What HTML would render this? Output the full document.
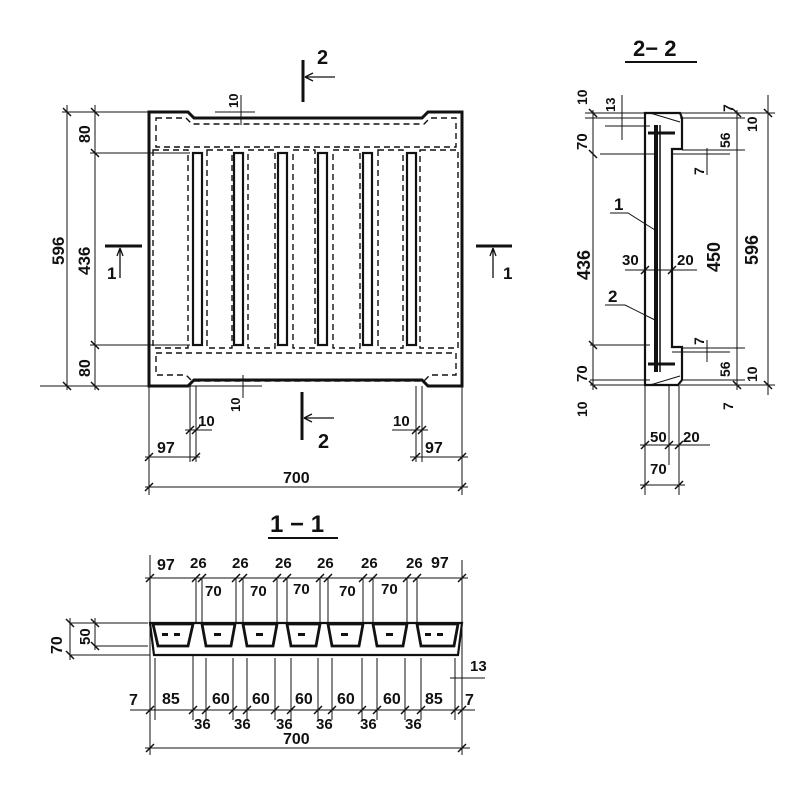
<!DOCTYPE html>
<html><head><meta charset="utf-8"><style>
html,body{margin:0;padding:0;background:#fff}
svg{display:block;font-size:15px}
text{font-family:"Liberation Sans",sans-serif;fill:#111;stroke:none;font-weight:bold}
</style></head><body>
<svg width="800" height="800" viewBox="0 0 800 800" xmlns="http://www.w3.org/2000/svg" stroke="#111" fill="none" stroke-width="1">
<!-- PLAN -->
<path d="M149 112 H188 L194 118 H422 L428 112 H462 V386 H428 L422 380 H194 L188 386 H149 Z" stroke-width="3"/>
<g stroke-dasharray="6,4" stroke-width="1.4">
<path d="M156 118 H186 L192 124 H424 L430 118 H456 V147 H156 Z"/>
<path d="M156 353 H456 V375 H430 L424 381 H192 L186 375 H156 Z"/>
<rect x="153" y="150" width="35" height="198"/>
<rect x="207" y="150" width="25" height="198"/>
<rect x="248" y="150" width="27" height="198"/>
<rect x="293" y="150" width="22" height="198"/>
<rect x="333" y="150" width="27" height="198"/>
<rect x="378" y="150" width="25" height="198"/>
<rect x="420" y="150" width="38" height="198"/>
</g>
<g stroke-width="2.2">
<rect x="193" y="153" width="9" height="192"/>
<rect x="234" y="153" width="9" height="192"/>
<rect x="278" y="153" width="9" height="192"/>
<rect x="318" y="153" width="9" height="192"/>
<rect x="363" y="153" width="9" height="192"/>
<rect x="407" y="153" width="9" height="192"/>
</g>
<!-- left dims -->
<line x1="67" y1="105" x2="67" y2="390"/>
<line x1="95" y1="105" x2="95" y2="390"/>
<line x1="62" y1="112" x2="149" y2="112"/>
<line x1="90" y1="153" x2="190" y2="153"/>
<line x1="90" y1="345" x2="190" y2="345"/>
<line x1="40" y1="386" x2="149" y2="386"/>
<g stroke-width="1.5"><path d="M63 108l8 8M63 382l8 8M91 108l8 8M91 149l8 8M91 341l8 8M91 382l8 8"/></g>
<text transform="translate(64,265) rotate(-90)" font-size="17">596</text>
<text transform="translate(90,275) rotate(-90)" font-size="17">436</text>
<text transform="translate(90,143) rotate(-90)" font-size="16">80</text>
<text transform="translate(90,377) rotate(-90)" font-size="16">80</text>
<!-- 10 top -->
<line x1="241" y1="95" x2="241" y2="125"/><line x1="215" y1="112" x2="255" y2="112"/>
<text transform="translate(238,108) rotate(-90)" font-size="13">10</text>
<line x1="243" y1="375" x2="243" y2="398"/><line x1="190" y1="386" x2="262" y2="386"/>
<text transform="translate(240,412) rotate(-90)" font-size="13">10</text>
<!-- section markers -->
<g stroke-width="3"><line x1="303" y1="60" x2="303" y2="102"/><line x1="302" y1="392" x2="302" y2="440"/>
<line x1="105" y1="246" x2="142" y2="246"/><line x1="476" y1="246" x2="512" y2="246"/></g>
<path d="M305 77 H335 M305 77 l8 -4 M305 77 l8 4" stroke-width="1.3"/>
<path d="M304 418 H334 M304 418 l8 -4 M304 418 l8 4" stroke-width="1.3"/>
<path d="M120 248 V278 M120 248 l-3 8 M120 248 l3 8" stroke-width="1.3"/>
<path d="M493 248 V278 M493 248 l-3 8 M493 248 l3 8" stroke-width="1.3"/>
<text x="317" y="64" font-size="20">2</text>
<text x="318" y="448" font-size="20">2</text>
<text x="107" y="279" font-size="17">1</text>
<text x="503" y="279" font-size="17">1</text>
<!-- bottom dims -->
<line x1="149" y1="386" x2="149" y2="495"/><line x1="462" y1="386" x2="462" y2="495"/>
<line x1="190" y1="386" x2="190" y2="462"/><line x1="196" y1="386" x2="196" y2="462"/>
<line x1="416" y1="386" x2="416" y2="462"/><line x1="422" y1="386" x2="422" y2="462"/>
<line x1="145" y1="487" x2="468" y2="487"/>
<line x1="145" y1="457" x2="200" y2="457"/><line x1="410" y1="457" x2="468" y2="457"/>
<line x1="185" y1="430" x2="212" y2="430"/><line x1="392" y1="430" x2="428" y2="430"/>
<g stroke-width="1.5"><path d="M145 491l8-8M458 491l8-8M145 461l8-8M192 461l8-8M412 461l8-8M458 461l8-8M186 434l8-8M192 434l8-8M412 434l8-8M418 434l8-8"/></g>
<text x="198" y="426" font-size="15">10</text><text x="393" y="426" font-size="15">10</text>
<text x="157" y="453" font-size="16">97</text><text x="425" y="453" font-size="16">97</text>
<text x="283" y="483" font-size="16">700</text>
<!-- SECTION 2-2 -->
<text x="633" y="56" font-size="22">2− 2</text>
<line x1="625" y1="62" x2="697" y2="62" stroke-width="2"/>
<path d="M645 113 H680 L682 118 V149 H672 V347 H682 V380 L678 385 H645 Z" stroke-width="2.2"/>
<path d="M650 113 L680 122" /><path d="M650 385 L680 376"/>
<line x1="656" y1="125" x2="656" y2="372" stroke-width="4"/>
<line x1="660" y1="125" x2="660" y2="372" stroke-width="1.5"/>
<path d="M648 133 H675 M648 364 H675" stroke-width="3"/>
<line x1="593" y1="110" x2="593" y2="390"/>
<line x1="737" y1="110" x2="737" y2="390"/>
<line x1="768" y1="95" x2="768" y2="395"/>
<line x1="585" y1="113" x2="645" y2="113"/><line x1="585" y1="118" x2="645" y2="118"/>
<line x1="600" y1="154" x2="655" y2="154"/><line x1="590" y1="345" x2="650" y2="345"/>
<line x1="590" y1="380" x2="650" y2="380"/><line x1="590" y1="385" x2="650" y2="385"/>
<line x1="680" y1="113" x2="775" y2="113"/><line x1="680" y1="118" x2="745" y2="118"/>
<line x1="682" y1="150" x2="745" y2="150"/><line x1="672" y1="154" x2="730" y2="154"/>
<line x1="682" y1="348" x2="745" y2="348"/><line x1="672" y1="352" x2="730" y2="352"/>
<line x1="682" y1="380" x2="745" y2="380"/><line x1="680" y1="385" x2="775" y2="385"/>
<line x1="622" y1="95" x2="622" y2="140"/><line x1="605" y1="126" x2="650" y2="126"/>
<line x1="707" y1="148" x2="707" y2="175"/><line x1="707" y1="340" x2="707" y2="362"/>
<line x1="645" y1="385" x2="645" y2="495"/><line x1="669" y1="385" x2="669" y2="465"/><line x1="679" y1="385" x2="679" y2="495"/>
<line x1="640" y1="445" x2="710" y2="445"/><line x1="640" y1="485" x2="685" y2="485"/>
<line x1="625" y1="270" x2="697" y2="270"/>
<path d="M610 213 H628 L655 230"/><path d="M605 305 H625 L655 320"/>
<g stroke-width="1.5"><path d="M589 109l8 8M589 150l8 8M589 341l8 8M589 381l8 8M733 109l8 8M733 381l8 8M764 109l8 8M764 381l8 8M641 449l8-8M665 449l8-8M675 449l8-8M641 489l8-8M675 489l8-8M641 274l8-8M668 274l8-8"/></g>
<text transform="translate(587,105) rotate(-90)" font-size="14">10</text>
<text transform="translate(615,112) rotate(-90)" font-size="13">13</text>
<text transform="translate(587,150) rotate(-90)" font-size="15">70</text>
<text transform="translate(590,280) rotate(-90)" font-size="18">436</text>
<text transform="translate(587,382) rotate(-90)" font-size="15">70</text>
<text transform="translate(587,417) rotate(-90)" font-size="14">10</text>
<text transform="translate(733,112) rotate(-90)" font-size="14">7</text>
<text transform="translate(757,132) rotate(-90)" font-size="14">10</text>
<text transform="translate(730,148) rotate(-90)" font-size="14">56</text>
<text transform="translate(704,175) rotate(-90)" font-size="14">7</text>
<text transform="translate(720,272) rotate(-90)" font-size="18">450</text>
<text transform="translate(758,265) rotate(-90)" font-size="18">596</text>
<text transform="translate(704,345) rotate(-90)" font-size="14">7</text>
<text transform="translate(730,377) rotate(-90)" font-size="14">56</text>
<text transform="translate(757,382) rotate(-90)" font-size="14">10</text>
<text transform="translate(733,410) rotate(-90)" font-size="14">7</text>
<text x="622" y="265" font-size="15">30</text><text x="677" y="265" font-size="15">20</text>
<text x="614" y="210" font-size="17">1</text><text x="608" y="302" font-size="17">2</text>
<text x="650" y="442" font-size="15">50</text><text x="683" y="442" font-size="15">20</text>
<text x="650" y="474" font-size="15">70</text>
<!-- SECTION 1-1 -->
<text x="270" y="532" font-size="24">1 − 1</text>
<line x1="268" y1="538" x2="338" y2="538" stroke-width="2"/>
<path d="M150 623 H462 L458 655 H154 Z" stroke-width="2.2"/>
<g stroke-width="2.8">
<path d="M153 624 H193 L188 646 H158 Z"/><path d="M202 624 H235 L231 646 H206 Z"/>
<path d="M243 624 H277 L273 646 H247 Z"/><path d="M287 624 H320 L316 646 H291 Z"/>
<path d="M328 624 H363 L359 646 H332 Z"/><path d="M373 624 H407 L403 646 H377 Z"/>
<path d="M417 624 H458 L454 646 H421 Z"/>
</g>
<g fill="#111" stroke="none">
<rect x="162" y="633" width="6" height="3"/><rect x="174" y="633" width="6" height="3"/>
<rect x="214" y="633" width="7" height="3"/><rect x="256" y="633" width="7" height="3"/>
<rect x="298" y="633" width="7" height="3"/><rect x="341" y="633" width="7" height="3"/>
<rect x="386" y="633" width="7" height="3"/><rect x="425" y="633" width="6" height="3"/><rect x="437" y="633" width="6" height="3"/>
</g>
<line x1="150" y1="555" x2="150" y2="755"/><line x1="462" y1="560" x2="462" y2="755"/>
<line x1="145" y1="578" x2="468" y2="578"/>
<g><path d="M196 578V622M202 578V622M236 578V622M243 578V622M277 578V622M287 578V622M320 578V622M328 578V622M363 578V622M373 578V622M407 578V622M417 578V622"/></g>
<path d="M155 658V720M193 655V720M206 658V720M233 658V720M247 658V720M275 658V720M291 658V720M318 658V720M332 658V720M362 658V720M377 658V720M405 658V720M421 658V720M455 658V720"/>
<line x1="130" y1="710" x2="475" y2="710"/><line x1="145" y1="748" x2="470" y2="748"/>
<line x1="70" y1="623" x2="148" y2="623"/><line x1="95" y1="646" x2="148" y2="646"/><line x1="70" y1="655" x2="150" y2="655"/>
<line x1="70" y1="618" x2="70" y2="660"/><line x1="95" y1="618" x2="95" y2="650"/>
<line x1="450" y1="678" x2="485" y2="678"/>
<g stroke-width="1.5"><path d="M146 582l8-8M458 582l8-8M192 582l8-8M198 582l8-8M232 582l8-8M239 582l8-8M273 582l8-8M283 582l8-8M316 582l8-8M324 582l8-8M359 582l8-8M369 582l8-8M403 582l8-8M413 582l8-8M146 714l8-8M189 714l8-8M202 714l8-8M229 714l8-8M243 714l8-8M271 714l8-8M287 714l8-8M314 714l8-8M328 714l8-8M358 714l8-8M373 714l8-8M401 714l8-8M417 714l8-8M451 714l8-8M458 714l8-8M146 752l8-8M458 752l8-8M66 619l8 8M66 651l8 8M91 619l8 8M91 642l8 8"/></g>
<g font-size="15">
<text x="157" y="570" font-size="16">97</text><text x="190" y="568">26</text><text x="232" y="568">26</text><text x="275" y="568">26</text><text x="317" y="568">26</text><text x="361" y="568">26</text><text x="406" y="568">26</text><text x="431" y="568" font-size="16">97</text>
<text x="205" y="596">70</text><text x="250" y="596">70</text><text x="293" y="594">70</text><text x="339" y="596">70</text><text x="381" y="594">70</text>
<text x="129" y="705" font-size="16">7</text><text x="162" y="704" font-size="16">85</text><text x="212" y="704" font-size="16">60</text><text x="252" y="704" font-size="16">60</text><text x="295" y="704" font-size="16">60</text><text x="337" y="704" font-size="16">60</text><text x="383" y="704" font-size="16">60</text><text x="425" y="704" font-size="16">85</text><text x="465" y="705" font-size="16">7</text>
<text x="194" y="729">36</text><text x="234" y="729">36</text><text x="276" y="729">36</text><text x="316" y="729">36</text><text x="360" y="729">36</text><text x="405" y="729">36</text>
<text x="283" y="744" font-size="16">700</text><text x="470" y="671">13</text>
<text transform="translate(62,654) rotate(-90)" font-size="16">70</text><text transform="translate(90,645) rotate(-90)" font-size="15">50</text>
</g>
</svg>
</body></html>
